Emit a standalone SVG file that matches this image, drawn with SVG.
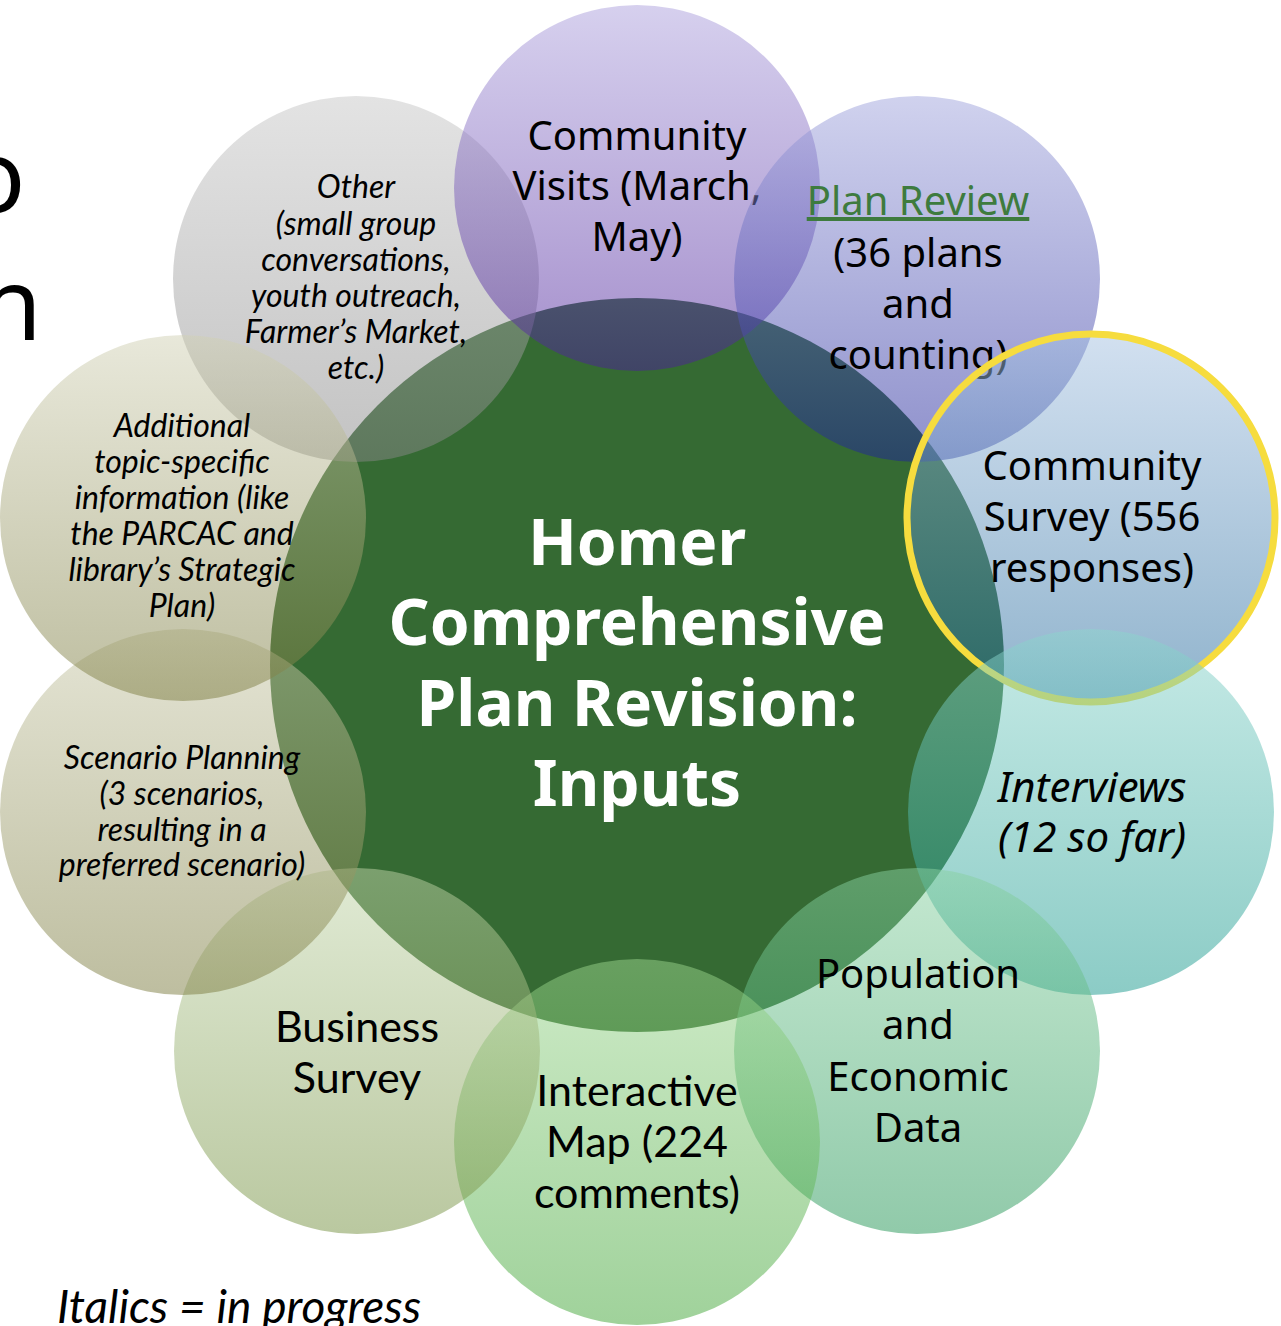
<svg xmlns="http://www.w3.org/2000/svg" width="1281" height="1326" viewBox="0 0 1281 1326">
<defs>
<linearGradient id="gOther" x1="0" y1="0" x2="0" y2="1"><stop offset="0" stop-color="#c7c7c7"/><stop offset="1" stop-color="#878787"/></linearGradient>
<linearGradient id="gVisits" x1="0" y1="0" x2="0" y2="1"><stop offset="0" stop-color="#ada1dd"/><stop offset="1" stop-color="#4b1f99"/></linearGradient>
<linearGradient id="gPlan" x1="0" y1="0" x2="0" y2="1"><stop offset="0" stop-color="#a1a5dd"/><stop offset="1" stop-color="#1f2399"/></linearGradient>
<linearGradient id="gSurvey" x1="0" y1="0" x2="0" y2="1"><stop offset="0" stop-color="#a5c1e1"/><stop offset="1" stop-color="#23699b"/></linearGradient>
<linearGradient id="gInterviews" x1="0" y1="0" x2="0" y2="1"><stop offset="0" stop-color="#8dd5cd"/><stop offset="1" stop-color="#19998d"/></linearGradient>
<linearGradient id="gPop" x1="0" y1="0" x2="0" y2="1"><stop offset="0" stop-color="#89d1a1"/><stop offset="1" stop-color="#239555"/></linearGradient>
<linearGradient id="gMap" x1="0" y1="0" x2="0" y2="1"><stop offset="0" stop-color="#9bd58d"/><stop offset="1" stop-color="#41a537"/></linearGradient>
<linearGradient id="gBiz" x1="0" y1="0" x2="0" y2="1"><stop offset="0" stop-color="#c1d5a9"/><stop offset="1" stop-color="#759141"/></linearGradient>
<linearGradient id="gScen" x1="0" y1="0" x2="0" y2="1"><stop offset="0" stop-color="#c9c9a9"/><stop offset="1" stop-color="#7d7d41"/></linearGradient>
<linearGradient id="gAdd" x1="0" y1="0" x2="0" y2="1"><stop offset="0" stop-color="#d1d1b5"/><stop offset="1" stop-color="#7d7d41"/></linearGradient>
</defs>
<style>
.bub{fill-opacity:0.5}
.lbl{font-family:"Noto Sans",sans-serif;font-size:40px;fill:#000;text-anchor:middle}
.nar{font-family:Lato,sans-serif;font-size:43px;fill:#000;text-anchor:middle}
.it{font-family:Lato,sans-serif;font-style:italic;font-size:32px;fill:#000;text-anchor:middle}
.it2{font-family:"Noto Sans",sans-serif;font-style:italic;font-size:42px;fill:#000;text-anchor:middle}
.title{font-family:"Noto Sans",sans-serif;font-weight:bold;font-size:64px;fill:#fff;text-anchor:middle}
.big{font-family:"Noto Sans",sans-serif;font-size:100px;fill:#000}
</style>
<rect x="0" y="0" width="1281" height="1326" fill="#fff"/>
<text class="big" x="-35" y="212">o</text>
<text class="big" x="-20" y="340">n</text>

<g id="center">
<circle cx="637" cy="665" r="367" fill="#356a33"/>
</g>

<g id="other">
<circle class="bub" cx="356" cy="279" r="183" fill="url(#gOther)"/>
<text class="it"><tspan x="356" y="198">Other</tspan><tspan x="356" y="235">(small group</tspan><tspan x="356" y="271">conversations,</tspan><tspan x="356" y="307">youth outreach,</tspan><tspan x="356" y="343">Farmer’s Market,</tspan><tspan x="356" y="379">etc.)</tspan></text>
</g>

<g id="visits">
<circle class="bub" cx="637" cy="188" r="183" fill="url(#gVisits)"/>
<text class="lbl"><tspan x="637" y="150">Community</tspan><tspan x="637" y="200">Visits (March,</tspan><tspan x="637" y="251">May)</tspan></text>
</g>

<g id="planreview">
<circle class="bub" cx="917" cy="279" r="183" fill="url(#gPlan)"/>
<text class="lbl"><tspan x="918" y="215" fill="#3e7b3e" text-decoration="underline">Plan Review</tspan><tspan x="918" y="267">(36 plans</tspan><tspan x="918" y="318">and</tspan><tspan x="918" y="369">counting)</tspan></text>
</g>

<g id="survey">
<circle class="bub" cx="1091" cy="518" r="183" fill="url(#gSurvey)"/>
<circle cx="1091" cy="518" r="184" fill="none" stroke="#f6dc3e" stroke-width="7"/>
<text class="lbl"><tspan x="1092" y="480">Community</tspan><tspan x="1092" y="531">Survey (556</tspan><tspan x="1092" y="582">responses)</tspan></text>
</g>

<g id="interviews">
<circle class="bub" cx="1091" cy="812" r="183" fill="url(#gInterviews)"/>
<text class="it2"><tspan x="1092" y="802">Interviews</tspan><tspan x="1092" y="852">(12 so far)</tspan></text>
</g>

<g id="population">
<circle class="bub" cx="917" cy="1051" r="183" fill="url(#gPop)"/>
<text class="lbl"><tspan x="918" y="988">Population</tspan><tspan x="918" y="1039">and</tspan><tspan x="918" y="1091">Economic</tspan><tspan x="918" y="1142">Data</tspan></text>
</g>

<g id="map">
<circle class="bub" cx="637" cy="1142" r="183" fill="url(#gMap)"/>
<text class="nar"><tspan x="637" y="1106">Interactive</tspan><tspan x="637" y="1157">Map (224</tspan><tspan x="637" y="1208">comments)</tspan></text>
</g>

<g id="business">
<circle class="bub" cx="357" cy="1051" r="183" fill="url(#gBiz)"/>
<text class="nar"><tspan x="357" y="1042">Business</tspan><tspan x="357" y="1093">Survey</tspan></text>
</g>

<g id="scenario">
<circle class="bub" cx="183" cy="812" r="183" fill="url(#gScen)"/>
<text class="it"><tspan x="182" y="769">Scenario Planning</tspan><tspan x="182" y="805">(3 scenarios,</tspan><tspan x="182" y="841">resulting in a</tspan><tspan x="182" y="876">preferred scenario)</tspan></text>
</g>

<g id="additional">
<circle class="bub" cx="183" cy="518" r="183" fill="url(#gAdd)"/>
<text class="it"><tspan x="182" y="437">Additional</tspan><tspan x="182" y="473">topic-specific</tspan><tspan x="182" y="509">information (like</tspan><tspan x="182" y="545">the PARCAC and</tspan><tspan x="182" y="581">library’s Strategic</tspan><tspan x="182" y="617">Plan)</tspan></text>
</g>

<g id="center-label">
<text class="title"><tspan x="637" y="565">Homer</tspan><tspan x="637" y="645">Comprehensive</tspan><tspan x="637" y="726">Plan Revision:</tspan><tspan x="637" y="806">Inputs</tspan></text>
</g>

<g id="connectors"></g>

<text x="57" y="1323" font-family="Lato, sans-serif" font-style="italic" font-size="46" fill="#000">Italics = in progress</text>
</svg>
